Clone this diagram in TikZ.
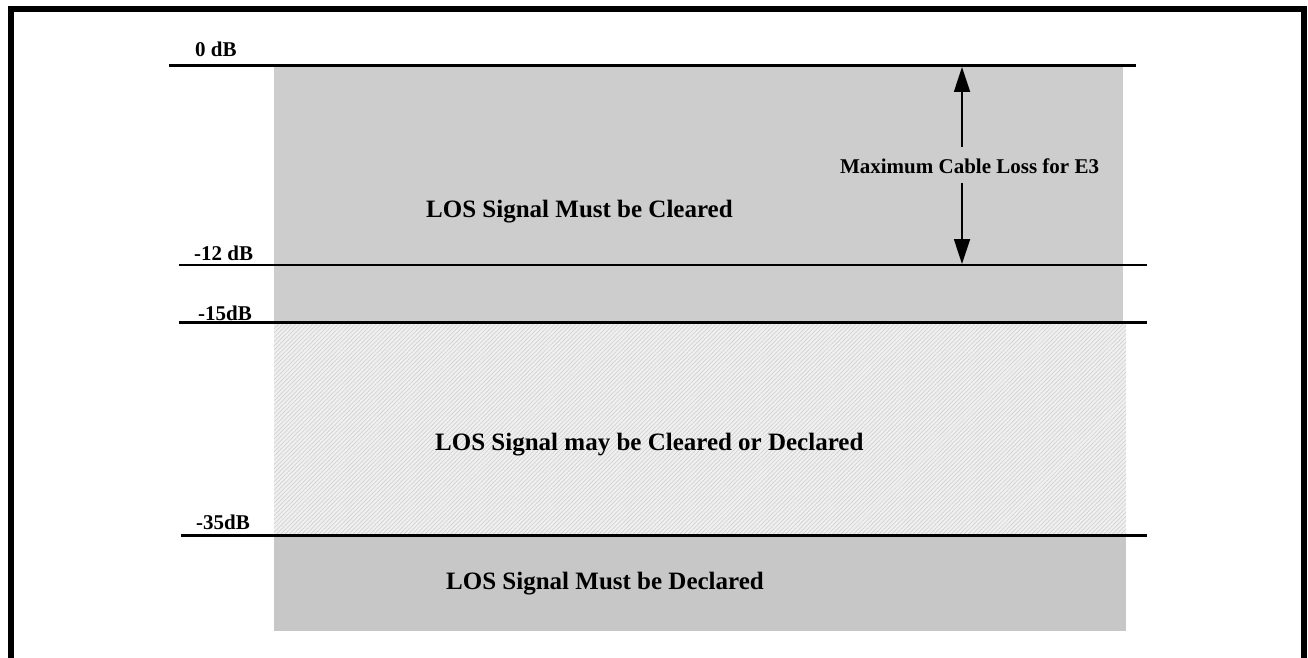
\documentclass[tikz,border=0pt]{standalone}
\usepackage{fontspec}
\setmainfont{Liberation Serif}
\usetikzlibrary{arrows.meta,patterns.meta}
\definecolor{clearfill}{RGB}{205,205,205}
\definecolor{declfill}{RGB}{199,199,199}
\definecolor{hatchbg}{RGB}{240,240,240}
\definecolor{hatchln}{RGB}{210,210,210}
\tikzset{
  biglabel/.style={anchor=base west, inner sep=0pt, font=\bfseries\fontsize{25}{30}\selectfont},
  dblabel/.style={anchor=base west, inner sep=0pt, font=\bfseries\fontsize{21}{25}\selectfont},
  level/.style={line width=3pt},
  thinlevel/.style={line width=1.8pt},
  dimarrow/.style={line width=1.8pt, -{Triangle[length=25pt,width=16pt]}},
}
\begin{document}
\begin{tikzpicture}[x=1pt,y=-1pt]
\useasboundingbox (0,0) rectangle (1308,658);
\clip (0,0) rectangle (1308,658);
% frame
\draw[line width=6pt] (11,700) -- (11,9) -- (1304,9) -- (1304,700);
% regions
\fill[clearfill] (274,66) rectangle (1123,322);
\fill[hatchbg] (274,323) rectangle (1126,535);
\fill[pattern={Lines[angle=45,distance=3pt,line width=0.7pt]}, pattern color=hatchln] (274,323) rectangle (1126,535);
\fill[declfill] (274,536) rectangle (1126,631);
% level lines
\draw[level] (169,65.5) -- (1136,65.5);
\draw[thinlevel] (179,265) -- (1147,265);
\draw[level] (179,322.5) -- (1147,322.5);
\draw[level] (181,535) -- (1147,535);
% level labels
\node[dblabel] (l0) at (195,57) {0 dB};
\node[dblabel] (l12) at (194,260) {-12 dB};
\node[dblabel] (l15) at (198,320) {-15dB};
\node[dblabel] (l35) at (196,529) {-35dB};
% region labels
\node[biglabel] (clr) at (426,217) {LOS Signal Must be Cleared};
\node[biglabel] (may) at (435,450) {LOS Signal may be Cleared or Declared};
\node[biglabel] (dec) at (446,589) {LOS Signal Must be Declared};
% dimension arrow
\node[anchor=center, inner sep=0pt, font=\bfseries\fontsize{21}{25}\selectfont] (mcl) at (969.5,166) {Maximum Cable Loss for E3};
\coordinate (upstart) at (962,147);
\coordinate (uptip) at (962,67);
\coordinate (dnstart) at (962,183);
\coordinate (dntip) at (962,264);
\draw[dimarrow] (upstart) -- (uptip);
\draw[dimarrow] (dnstart) -- (dntip);
\end{tikzpicture}
\end{document}
